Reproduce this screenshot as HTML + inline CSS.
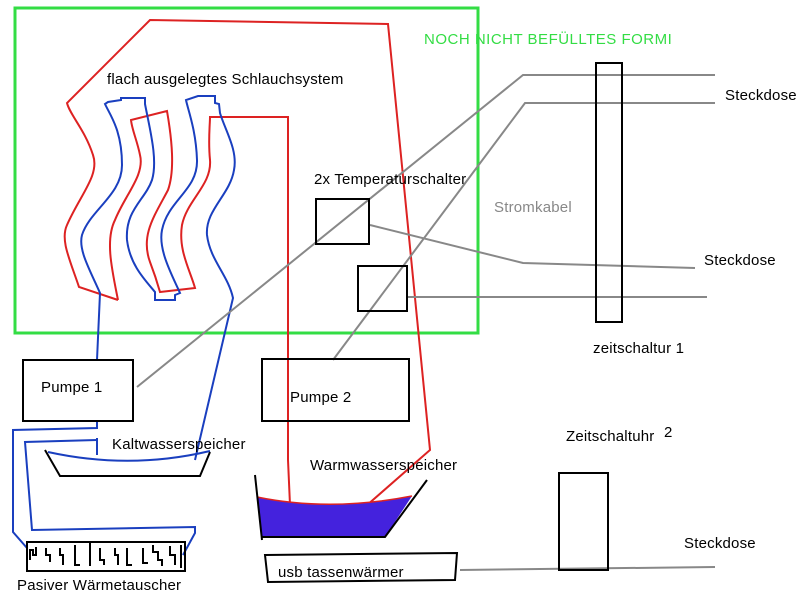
<!DOCTYPE html>
<html><head><meta charset="utf-8"><style>
html,body{margin:0;padding:0;background:#fff;}
svg{display:block;font-family:"Liberation Sans",sans-serif;}
</style></head><body>
<svg width="800" height="600" viewBox="0 0 800 600" xmlns="http://www.w3.org/2000/svg">
<rect x="15" y="8" width="463" height="325" fill="none" stroke="#33dd44" stroke-width="3"/>
<g fill="none" stroke-width="2">
<path d="M118,300 L79,287 C70,260 60,240 67,225 C80,195 100,175 93,155 C85,130 70,115 67,103 L150,20 L388,24 L430,450 L350,520" stroke="#dd2222"/>
<path d="M118,300 C112,270 105,240 115,220 C125,195 145,175 140,155 C137,140 132,130 131,120 L167,111 C172,140 175,170 168,190 C155,215 140,235 150,262 C155,275 158,285 160,292 L195,288 C190,270 178,250 182,225 C187,200 212,185 210,160 C208,140 210,125 210,117 L288,117 L288,460 L290,505" stroke="#dd2222"/>
<path d="M97,360 L100,293 C90,270 78,250 82,235 C90,210 122,195 122,165 C122,130 110,115 105,104 L108,102 L121,100 L121,98 L145,98 L145,104 C150,130 158,160 152,180 C145,200 125,210 127,240 C130,265 145,280 155,292 L155,300 L175,300 L175,295 L180,293 C172,275 158,250 162,230 C168,200 198,190 197,160 C196,130 188,110 186,100 L198,96 L215,96 L215,103 L219,104 L220,113 C225,130 238,150 234,170 C230,195 205,210 207,235 C210,260 228,275 233,298 L195,460" stroke="#1a3fbf"/>
<path d="M97,421 L97,428 L13,430 L13,532 L27,548" stroke="#1a3fbf"/>
<path d="M97,440 L25,442 L32,530 L195,527 L195,533 L183,555" stroke="#1a3fbf"/>
<path d="M97,438 L97,455" stroke="#1a3fbf"/>
<path d="M48,452 Q130,470 210,451" stroke="#1a3fbf"/>
</g>
<g stroke="#888" stroke-width="2" fill="none">
<path d="M137,387 L523,75 L715,75"/>
<path d="M333,360 L525,103 L715,103"/>
<path d="M370,225 L523,263 L695,268"/>
<path d="M408,297 L707,297"/>
<path d="M460,570 L715,567"/>
</g>
<g fill="none" stroke="#000" stroke-width="2">
<rect x="596" y="63" width="26" height="259"/>
<rect x="316" y="199" width="53" height="45"/>
<rect x="358" y="266" width="49" height="45"/>
<rect x="23" y="360" width="110" height="61"/>
<rect x="262" y="359" width="147" height="62"/>
<rect x="559" y="473" width="49" height="97"/>
<rect x="27" y="542" width="158" height="29"/>
<path d="M45,450 L60,476 L200,476 L210,452"/>
<path d="M265,555 L457,553 L455,580 L268,582 Z"/>
<path d="M30,560 L30,550 L33,550 L33,555 L36,555 L36,547 M46,548 L46,555 L50,555 L50,562 M60,548 L60,555 L63,555 L63,565 M75,545 L75,565 L80,565 M90,542 L90,566 M100,548 L100,560 L104,560 L104,565 M115,548 L115,555 L118,555 L118,565 M127,548 L127,565 L132,565 M143,548 L143,563 L148,563 M153,545 L153,552 L158,552 L158,560 L162,560 L162,566 M170,546 L170,555 L175,555 L175,565 M181,545 L181,568"/>
</g>
<path d="M257,497 Q330,512 412,496 L385,537 L262,537 Z" fill="#4422dd"/>
<path d="M257,497 Q330,512 412,496" fill="none" stroke="#dd2222" stroke-width="1.5"/>
<path d="M255,475 L262,540 M262,537 L385,537 L427,480" fill="none" stroke="#000" stroke-width="2"/>
<g font-size="15" fill="#000" letter-spacing="0.2">
<text x="424" y="44" fill="#33dd44" letter-spacing="0.5">NOCH NICHT BEFÜLLTES FORMI</text>
<text x="107" y="84">flach ausgelegtes Schlauchsystem</text>
<text x="314" y="184">2x Temperaturschalter</text>
<text x="494" y="212" fill="#888">Stromkabel</text>
<text x="725" y="100">Steckdose</text>
<text x="704" y="265">Steckdose</text>
<text x="684" y="548">Steckdose</text>
<text x="593" y="353">zeitschaltur 1</text>
<text x="566" y="441">Zeitschaltuhr</text>
<text x="664" y="437">2</text>
<text x="41" y="392">Pumpe 1</text>
<text x="290" y="402">Pumpe 2</text>
<text x="112" y="449">Kaltwasserspeicher</text>
<text x="310" y="470">Warmwasserspeicher</text>
<text x="17" y="590">Pasiver Wärmetauscher</text>
<text x="278" y="577">usb tassenwärmer</text>
</g>
</svg>
</body></html>
